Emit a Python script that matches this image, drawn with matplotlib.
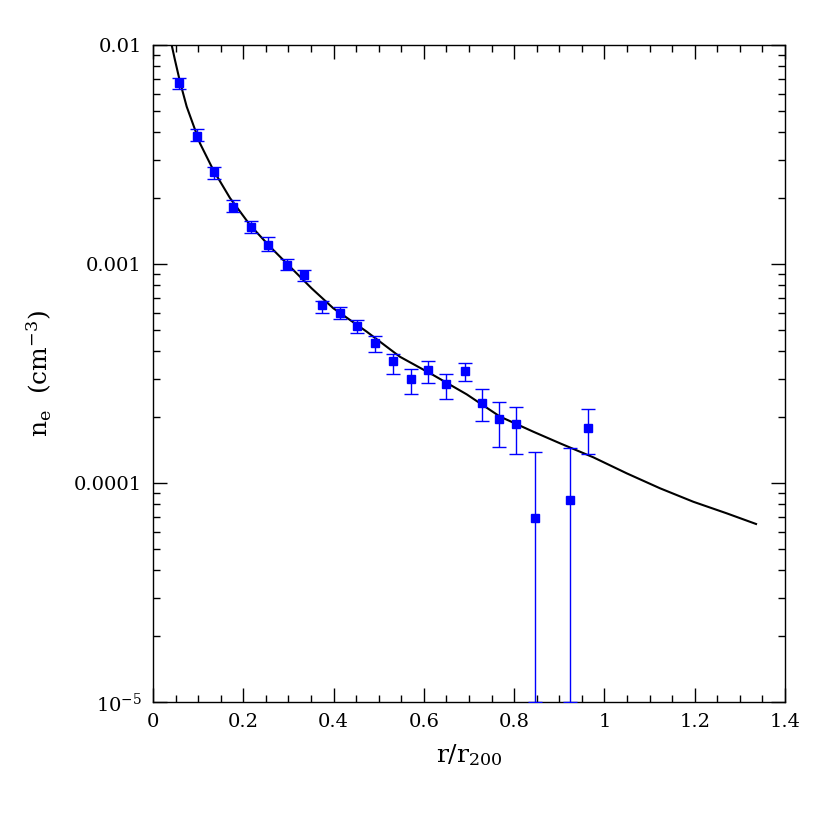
import numpy as np
import matplotlib
matplotlib.use("Agg")
import matplotlib.pyplot as plt
from matplotlib.ticker import MultipleLocator, LogLocator, NullFormatter

plt.rcParams["font.family"] = "DejaVu Serif"
plt.rcParams["mathtext.fontset"] = "dejavuserif"

# measured density profile
r = [0.058, 0.098, 0.135, 0.177, 0.217, 0.255, 0.297, 0.334, 0.374, 0.414, 0.452, 0.492,
     0.532, 0.572, 0.609, 0.649, 0.691, 0.729, 0.767, 0.804, 0.846, 0.924, 0.964]
ne = [0.00671, 0.00384, 0.00263, 0.00182, 0.001476, 0.001222, 0.00099, 0.000891, 0.00065,
      0.000597, 0.000521, 0.000435, 0.00036, 0.000298, 0.000328, 0.000283, 0.000325,
      0.000232, 0.000196, 0.000186, 6.9e-5, 8.4e-5, 0.000178]
ne_hi = [0.0071, 0.00412, 0.00277, 0.00197, 0.00157, 0.001324, 0.001057, 0.00094, 0.000679,
         0.000638, 0.000556, 0.000471, 0.000389, 0.000333, 0.00036, 0.000316, 0.000354,
         0.00027, 0.000235, 0.000223, 0.000138, 0.000145, 0.000217]
ne_lo = [0.00628, 0.00363, 0.00244, 0.00173, 0.00138, 0.00115, 0.00094, 0.00084, 0.000597,
         0.000559, 0.000484, 0.000397, 0.000316, 0.000256, 0.000287, 0.000243, 0.000292,
         0.000191, 0.0001466, 0.000135, 1e-5, 1e-5, 0.000135]

# model curve
r_model = [0.0414, 0.0487, 0.0598, 0.0747, 0.1041, 0.1336, 0.1706, 0.2149, 0.2592, 0.3035,
           0.3515, 0.3994, 0.4734, 0.5471, 0.6209, 0.6949, 0.7687, 0.8424, 0.9016, 0.9754,
           1.0494, 1.1231, 1.1969, 1.2709, 1.3358]
ne_model = [0.01, 0.00854, 0.0068, 0.00523, 0.003557, 0.002686, 0.002001, 0.001507, 0.0012,
            0.000972, 0.000774, 0.000628, 0.000491, 0.000377, 0.000311, 0.000254, 0.000201,
            0.0001715, 0.0001518, 0.000131, 0.0001107, 9.46e-5, 8.21e-5, 7.27e-5, 6.5e-5]

fig = plt.figure(figsize=(8.3, 8.3), dpi=100)
ax = fig.add_axes([0.1843, 0.1542, 0.7615, 0.7916])

ne_a = np.array(ne)
yerr = [ne_a - np.array(ne_lo), np.array(ne_hi) - ne_a]
ax.errorbar(r, ne, yerr=yerr, fmt="s", color="#0000ff", ms=5.5, elinewidth=1.0,
            capsize=5, capthick=1.0, zorder=3)
ax.plot(r_model, ne_model, color="black", lw=1.5, zorder=2)

ax.set_yscale("log")
ax.set_xlim(0, 1.4)
ax.set_ylim(1e-5, 0.01)

ax.set_xticks([0, 0.2, 0.4, 0.6, 0.8, 1.0, 1.2, 1.4])
ax.set_xticklabels(["0", "0.2", "0.4", "0.6", "0.8", "1", "1.2", "1.4"])
ax.xaxis.set_minor_locator(MultipleLocator(0.05))
ax.set_yticks([1e-5, 1e-4, 1e-3, 1e-2])
ax.set_yticklabels([r"$10^{-5}$", "0.0001", "0.001", "0.01"])
ax.yaxis.set_minor_locator(LogLocator(base=10, subs=np.arange(2, 10)))
ax.yaxis.set_minor_formatter(NullFormatter())

ax.tick_params(which="both", direction="in", top=True, right=True, labelsize=14, width=1)
ax.tick_params(which="major", length=10, pad=8)
ax.tick_params(which="minor", length=5)
for s in ax.spines.values():
    s.set_linewidth(1)

ax.set_xlabel(r"$\mathrm{r/r_{200}}$", fontsize=18, labelpad=8)
ax.set_ylabel(r"$\mathrm{n_e}$  (cm$^{-3}$)", fontsize=18, labelpad=14)

fig.savefig("out.png", dpi=100)
